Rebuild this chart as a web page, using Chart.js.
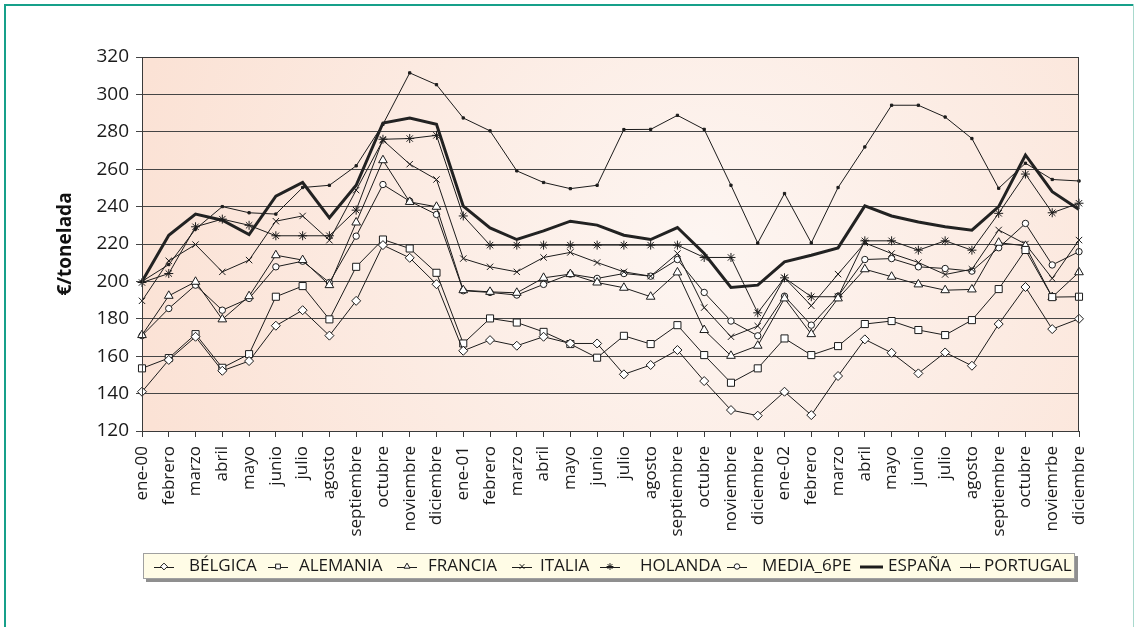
<!DOCTYPE html>
<html>
<head>
<meta charset="utf-8">
<script src="https://cdn.jsdelivr.net/npm/chart.js@4.4.1/dist/chart.umd.min.js"></script>
<style>
  html, body { margin: 0; padding: 0; background: #ffffff; }
  canvas { display: block; }
</style>
</head>
<body>
<canvas id="precios" width="1136" height="627"></canvas>
<script>
// Meses (enero 2000 – diciembre 2002)
const meses = [
  'ene-00','febrero','marzo','abril','mayo','junio','julio','agosto','septiembre','octubre','noviembre','diciembre',
  'ene-01','febrero','marzo','abril','mayo','junio','julio','agosto','septiembre','octubre','noviembre','diciembre',
  'ene-02','febrero','marzo','abril','mayo','junio','julio','agosto','septiembre','octubre','noviemrbe','diciembre'
];

// Precios mensuales (€/tonelada)
const belgica = [141,158,170.4,152.2,157.4,176.3,184.6,171,189.6,219.4,212.6,198.5,
  162.9,168.6,165.6,170.4,166.8,166.8,150.3,155.3,163.3,146.7,131.2,128.2,
  141,128.5,149.4,169,161.8,150.8,162,154.9,177.2,197,174.5,180];
const alemania = [153.5,159,171.8,153.8,161.1,191.8,197.5,179.7,207.8,222.4,217.6,204.6,
  166.8,180.2,178,173,166.5,159.2,170.9,166.5,176.6,160.6,145.8,153.5,
  169.5,160.6,165.4,177.2,178.8,174,171.3,179.3,195.9,216.8,191.6,191.8];
const francia = [171.3,192.3,199.8,179.7,192.1,214,211.4,198,231.5,264.8,242.5,239.9,
  195.3,194.4,193.9,201.9,203.9,199.4,196.6,191.8,204.8,174,160.2,165.6,
  190.9,171.8,190.9,206.5,202.5,198.4,195.3,195.7,220.7,219,191.6,204.9];
const italia = [189.6,211,219.7,205.1,211.4,232.2,235,222,248.8,275.5,262.7,254.5,
  212.2,207.8,205.1,212.8,215.5,210.1,205.1,202.8,214.9,186,170.4,176.1,
  201.9,187,203.9,220.6,214.9,210.1,203.7,206.5,227.5,220,201.6,222.1];
const holanda = [199.4,204.2,229.2,233.3,230,224.4,224.4,224.4,238.1,276,276.4,278.1,
  235,219.4,219.4,219.4,219.4,219.4,219.4,219.4,219.4,212.8,212.8,183.2,
  201.9,191.8,191.8,221.7,221.7,216.7,221.7,216.7,236.4,257.4,236.7,241.8];
const media6pe = [171,185.5,198,184.6,190.9,207.8,210.8,199.4,224.2,251.8,242.9,235.8,
  195,194.1,192.7,198.4,203.9,201.6,204.2,202.8,211.7,194.1,178.8,170.9,
  192.1,176.6,192.1,211.7,212.2,207.8,206.9,205.5,218,231,208.8,215.9];
const espana = [200,224.7,236,232.7,225,245.6,252.9,234,251.4,284.7,287.4,284,
  240.2,228.6,222.4,227,232.2,230.1,224.7,222.4,228.8,214.9,196.8,198,
  210.5,214,217.9,240.4,235,231.8,229.2,227.4,240,267.6,248,238.5];
const portugal = [200,209,228,240,236.7,236,250.2,251.4,261.8,284,311.5,305.2,
  287.4,280.5,259.1,252.9,249.6,251.4,281.2,281.3,288.8,281.3,251.4,220.5,
  247,220.6,250.2,271.9,294.2,294.2,287.9,276.4,249.8,263.2,254.5,253.7];

// Escala vertical
const yMin = 120, yMax = 320, yPaso = 20;

const FONT = "'Open Sans', 'DejaVu Sans', sans-serif";
const INK = '#1c1c1c';

function serie(label, data, style, extra) {
  return Object.assign({
    label, data,
    borderColor: INK,
    borderWidth: 1,
    pointStyle: style,
    pointRadius: 4.5,
    pointBorderWidth: 1,
    pointBorderColor: INK,
    pointBackgroundColor: '#ffffff',
    tension: 0,
    fill: false
  }, extra || {});
}

const datasets = [
  serie('BÉLGICA', belgica, 'rectRot', { pointRadius: 4.5 }),
  serie('ALEMANIA', alemania, 'rect', { pointRadius: 5 }),
  serie('FRANCIA', francia, 'triangle', { pointRadius: 5 }),
  serie('ITALIA', italia, 'crossRot', { pointRadius: 4.5 }),
  serie('HOLANDA', holanda, 'star', { pointRadius: 4.5 }),
  serie('MEDIA_6PE', media6pe, 'circle', { pointRadius: 3.2 }),
  serie('ESPAÑA', espana, false, { borderWidth: 3, pointRadius: 0, borderColor: '#222' }),
  serie('PORTUGAL', portugal, 'rect', { pointRadius: 1.6, pointBackgroundColor: INK })
];

// Posición de cada elemento de la leyenda: inicio del símbolo y del texto
const leyendaX = [[154, 189], [268, 299], [397, 428], [512, 540], [600, 640], [727, 762], [860, 888], [960, 984]];

// Marco exterior, fondo del área de trazado y leyenda
const decoracion = {
  id: 'decoracion',
  beforeDraw(chart) {
    const { ctx, chartArea: a } = chart;
    ctx.save();
    ctx.fillStyle = '#ffffff';
    ctx.fillRect(0, 0, chart.width, chart.height);
    // marco verde
    ctx.fillStyle = '#17a08a';
    ctx.fillRect(4, 4, 1130, 2);
    ctx.fillRect(4, 4, 2, chart.height);
    ctx.fillStyle = '#a9d9cd';
    ctx.fillRect(1133, 4, 1, chart.height);
    // fondo melocotón degradado
    const cx = a.left + a.width * 0.6, cy = a.top + a.height * 0.5;
    const g = ctx.createRadialGradient(cx, cy, 10, cx, cy, a.width * 0.62);
    g.addColorStop(0, '#fdf5f1');
    g.addColorStop(1, '#fbe2d5');
    ctx.fillStyle = g;
    ctx.fillRect(a.left, a.top, a.width, a.height);
    ctx.restore();
  },
  afterDraw(chart) {
    const { ctx, chartArea: a } = chart;
    ctx.save();
    ctx.strokeStyle = '#3a3a3a';
    ctx.lineWidth = 1;
    ctx.strokeRect(Math.round(a.left) + 0.5, Math.round(a.top) + 0.5,
                   Math.round(a.width) - 1, Math.round(a.height));
    // leyenda
    const box = { x: 143, y: 553, w: 932, h: 26 };
    ctx.fillStyle = '#8f8f8f';
    ctx.fillRect(box.x + 3, box.y + 3, box.w, box.h);
    ctx.fillStyle = '#fffce6';
    ctx.fillRect(box.x, box.y, box.w, box.h);
    ctx.strokeStyle = '#a0a0a0';
    ctx.strokeRect(box.x + 0.5, box.y + 0.5, box.w - 1, box.h - 1);
    ctx.font = '17px ' + FONT;
    ctx.textBaseline = 'middle';
    const cy = box.y + box.h / 2 + 0.5;
    chart.data.datasets.forEach((ds, i) => {
      const [x, tx] = leyendaX[i];
      const iw = ds.label === 'ESPAÑA' ? 23 : 20;
      const ly = Math.round(cy) + (ds.borderWidth === 1 ? 0.5 : 0);
      ctx.strokeStyle = INK;
      ctx.lineWidth = ds.borderWidth;
      ctx.beginPath();
      ctx.moveTo(x, ly);
      ctx.lineTo(x + iw, ly);
      ctx.stroke();
      if (ds.pointStyle) {
        ctx.lineWidth = 1;
        ctx.fillStyle = ds.pointBackgroundColor;
        if (ds.label === 'PORTUGAL') {
          ctx.beginPath();
          ctx.moveTo(x + iw / 2 + 0.5, cy - 3);
          ctx.lineTo(x + iw / 2 + 0.5, cy + 2);
          ctx.stroke();
        } else {
          const r = Math.min(ds.pointRadius, 4) * 0.85;
          Chart.helpers.drawPoint(ctx, { pointStyle: ds.pointStyle, radius: r, rotation: 0, borderWidth: 1 }, x + iw / 2, cy);
        }
      }
      ctx.fillStyle = '#1a1a1a';
      ctx.fillText(ds.label, tx, cy);
    });
    ctx.restore();
  }
};

new Chart(document.getElementById('precios'), {
  type: 'line',
  data: { labels: meses, datasets },
  plugins: [decoracion],
  options: {
    responsive: false,
    animation: false,
    layout: { padding: { top: 57, right: 57, left: 54, bottom: 0 } },
    plugins: { legend: { display: false }, tooltip: { enabled: false } },
    elements: { line: { borderJoinStyle: 'miter' } },
    scales: {
      x: {
        offset: false,
        grid: { display: true, drawOnChartArea: false, drawTicks: true, tickLength: 6, color: '#3a3a3a' },
        border: { display: true, color: '#3a3a3a' },
        ticks: {
          autoSkip: false, maxRotation: 90, minRotation: 90, padding: 9,
          color: '#1a1a1a', font: { family: FONT, size: 17 }
        },
        afterFit(scale) { scale.height = 196; }
      },
      y: {
        min: yMin, max: yMax,
        grid: { color: '#454545', tickLength: 6, drawTicks: true },
        border: { display: true, color: '#3a3a3a' },
        ticks: {
          stepSize: yPaso, padding: 7, color: '#1a1a1a',
          font: { family: FONT, size: 19 }
        },
        title: {
          display: true, text: '€/tonelada', color: '#111',
          font: { family: FONT, size: 19, weight: 'bold' }, padding: { top: 0, bottom: 0 }
        },
        afterFit(scale) { scale.width = 88; }
      }
    }
  }
});
</script>
</body>
</html>
